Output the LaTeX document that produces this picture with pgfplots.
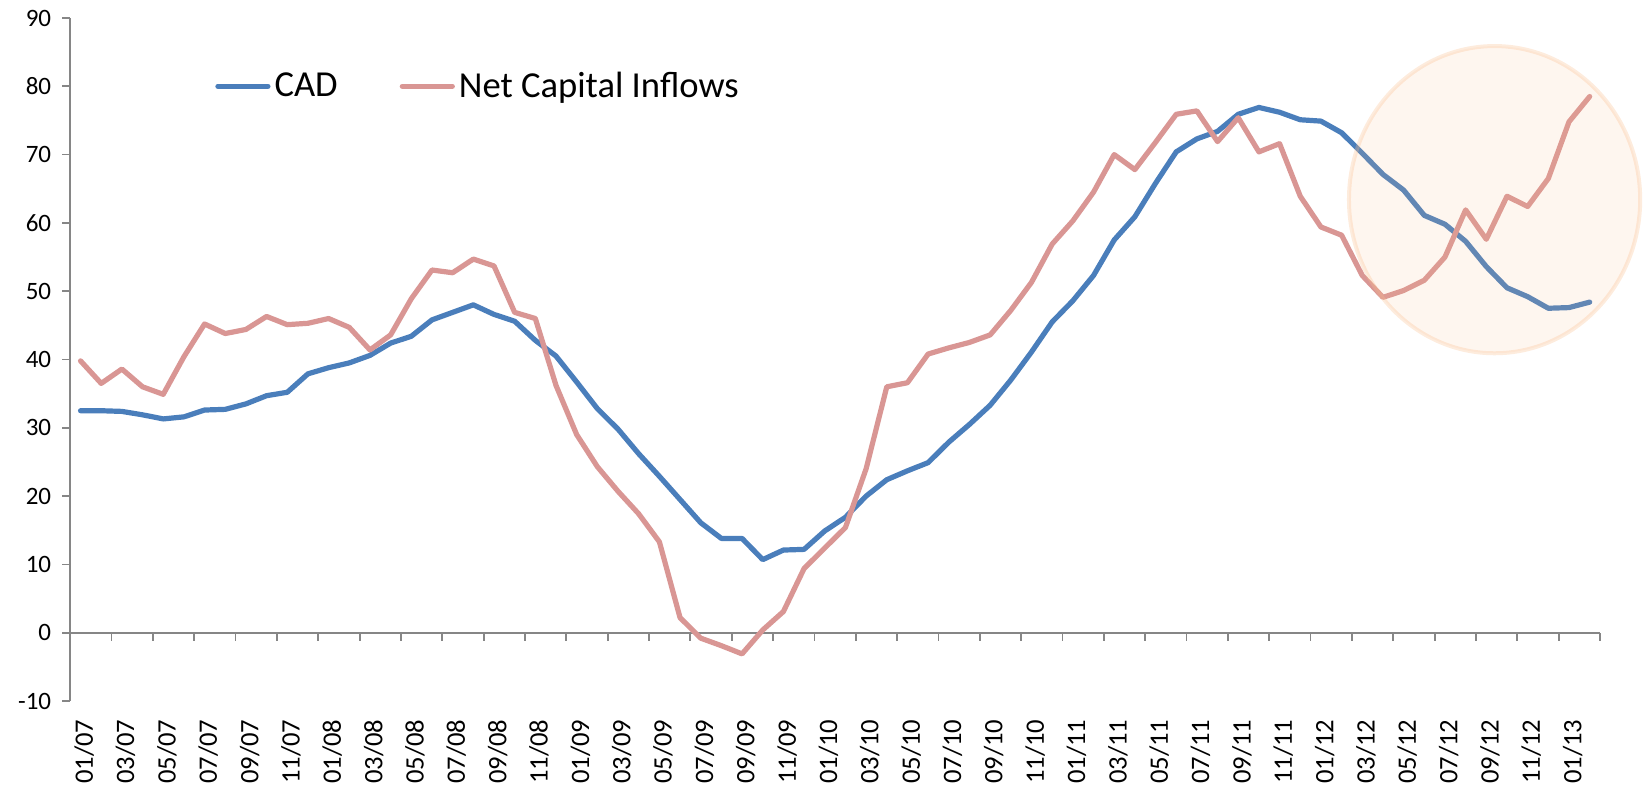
\documentclass[border=0pt]{standalone}
\usepackage{fontspec}
\setmainfont{Carlito}
\usepackage{pgfplots}
\usepackage{pgfplotstable}
\pgfplotsset{compat=1.18}
\definecolor{cadblue}{RGB}{74,126,187}
\definecolor{ncipink}{RGB}{217,150,148}
\definecolor{axgray}{RGB}{134,134,134}
\definecolor{circfill}{RGB}{250,191,143}

\pgfplotstableread{
x y
0.5 32.5
1.5 32.5
2.5 32.4
3.5 31.9
4.5 31.3
5.5 31.6
6.5 32.6
7.5 32.7
8.5 33.5
9.5 34.7
10.5 35.2
11.5 37.9
12.5 38.8
13.5 39.5
14.5 40.6
15.5 42.4
16.5 43.4
17.5 45.8
18.5 46.9
19.5 48.0
20.5 46.6
21.5 45.6
22.5 42.8
23.5 40.5
24.5 36.7
25.5 32.8
26.5 29.8
27.5 26.2
28.5 22.9
29.5 19.5
30.5 16.1
31.5 13.8
32.5 13.8
33.5 10.7
34.5 12.1
35.5 12.2
36.5 14.9
37.5 16.9
38.5 20.0
39.5 22.4
40.5 23.7
41.5 24.9
42.5 27.9
43.5 30.5
44.5 33.3
45.5 37.0
46.5 41.1
47.5 45.5
48.5 48.6
49.5 52.3
50.5 57.5
51.5 60.9
52.5 65.8
53.5 70.4
54.5 72.3
55.5 73.4
56.5 75.9
57.5 76.9
58.5 76.2
59.5 75.1
60.5 74.9
61.5 73.2
62.5 70.2
63.5 67.1
64.5 64.8
65.5 61.1
66.5 59.8
67.5 57.3
68.5 53.6
69.5 50.5
70.5 49.2
71.5 47.5
72.5 47.6
73.5 48.4
}\cadtable

\pgfplotstableread{
x y
0.5 39.8
1.5 36.5
2.5 38.6
3.5 36.0
4.5 34.9
5.5 40.4
6.5 45.2
7.5 43.8
8.5 44.4
9.5 46.3
10.5 45.1
11.5 45.3
12.5 46.0
13.5 44.7
14.5 41.4
15.5 43.6
16.5 48.9
17.5 53.1
18.5 52.7
19.5 54.7
20.5 53.7
21.5 46.9
22.5 46.0
23.5 36.2
24.5 29.0
25.5 24.3
26.5 20.7
27.5 17.4
28.5 13.3
29.5 2.2
30.5 -0.8
31.5 -1.9
32.5 -3.1
33.5 0.4
34.5 3.1
35.5 9.4
36.5 12.4
37.5 15.4
38.5 24.0
39.5 36.0
40.5 36.6
41.5 40.8
42.5 41.7
43.5 42.5
44.5 43.6
45.5 47.2
46.5 51.3
47.5 56.9
48.5 60.3
49.5 64.5
50.5 70.0
51.5 67.8
52.5 71.8
53.5 75.9
54.5 76.4
55.5 71.9
56.5 75.4
57.5 70.4
58.5 71.6
59.5 63.9
60.5 59.4
61.5 58.2
62.5 52.3
63.5 49.1
64.5 50.1
65.5 51.6
66.5 55.0
67.5 61.9
68.5 57.6
69.5 63.9
70.5 62.4
71.5 66.5
72.5 74.8
73.5 78.5
}\ncitable

\begin{document}
\begin{tikzpicture}
\begin{axis}[
  scale only axis,
  width=764.9pt, height=341.5pt,
  xmin=0, xmax=74, ymin=-10, ymax=90,
  clip=false,
  axis x line=middle, axis y line=left,
  hide obscured x ticks=false,
  axis line style={-, draw=axgray, line width=0.9pt},
  tick style={draw=axgray, line width=0.9pt},
  tick align=outside,
  major tick length=4pt,
  xtick={0,2,...,74},
  xticklabels={01/07,03/07,05/07,07/07,09/07,11/07,01/08,03/08,05/08,07/08,09/08,11/08,01/09,03/09,05/09,07/09,09/09,11/09,01/10,03/10,05/10,07/10,09/10,11/10,01/11,03/11,05/11,07/11,09/11,11/11,01/12,03/12,05/12,07/12,09/12,11/12,01/13,{}},
  ytick={-10,0,...,90},
  yticklabels={-10,0,10,20,30,40,50,60,70,80,90},
  yticklabel style={font=\fontsize{12.5}{14}\selectfont, text=black, xshift=-2pt},
  xticklabel style={font=\fontsize{13.3}{15}\selectfont, text=black, xshift=7pt, yshift=-36pt, rotate=90, anchor=east},
  legend columns=2,
  legend style={at={(axis cs:7,80)}, anchor=west, draw=none, fill=none,
    inner sep=0pt, font=\fontsize{18.3}{21}\selectfont,
    /tikz/every even column/.append style={column sep=29pt}},
  legend image code/.code={\draw[#1] (0pt,0pt) -- (25pt,0pt);},
]
\addplot[cadblue, line width=2.6pt, line join=round, line cap=round] table[x=x,y=y] {\cadtable};
\addlegendentry{CAD}
\addplot[ncipink, line width=2.6pt, line join=round, line cap=round] table[x=x,y=y] {\ncitable};
\addlegendentry{Net Capital Inflows}
\draw[draw=circfill, draw opacity=0.3, line width=2pt, fill=circfill, fill opacity=0.14]
  (axis cs:68.9,63.4) ellipse [x radius=72.8pt, y radius=76.8pt];
\path (rel axis cs:0,0) coordinate (O);
\end{axis}
\pgfresetboundingbox
\path (O) ++(-35.1pt,-43.5pt) rectangle ++(821.5pt,394pt);
\end{tikzpicture}
\end{document}
